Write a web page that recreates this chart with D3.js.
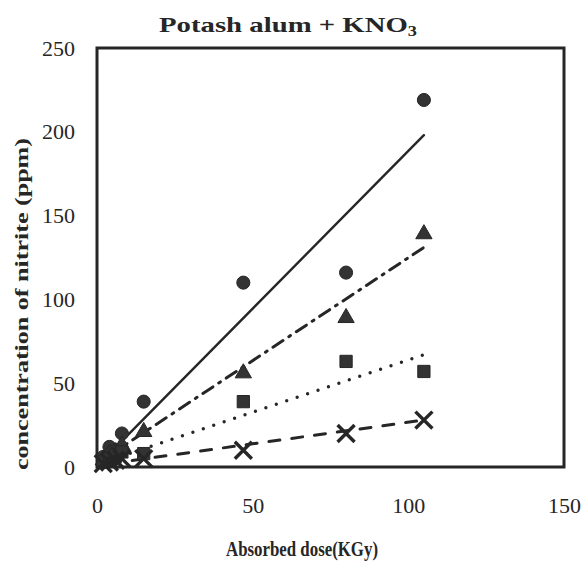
<!DOCTYPE html>
<html>
<head>
<meta charset="utf-8">
<script src="https://cdn.jsdelivr.net/npm/d3@7"></script>
<style>
  body { margin: 0; background: #fff; }
  svg { display: block; }
</style>
</head>
<body>
<div id="chart"></div>
<script>
// doses (KGy)
const doses = [2, 4, 6, 8, 15, 47, 80, 105];
const circleVals = [6, 12, 10, 20, 39, 110, 116, 219];
const triangleVals = [4, 8, 9, 13, 21, 56, 89, 139];
const squareVals = [3, 5, 7, 9, 8, 39, 63, 57];
const crossVals = [2, 3, 4, 5, 5, 10, 20, 28];

// fitted lines: value at start and end dose
const fitDoses = [4, 105];
const circleFit = [8, 198];
const triangleFit = [7, 131];
const squareFit = [4, 67];
const crossFit = [2, 28];

const xTicks = [0, 50, 100, 150];
const yTicks = [0, 50, 100, 150, 200, 250];

const width = 582;
const height = 563;
const margin = { top: 48, right: 18, bottom: 96, left: 97 };
const ink = "#262626";

const svg = d3.select("#chart")
    .append("svg")
    .attr("width", width)
    .attr("height", height);

const xScale = d3.scaleLinear()
    .domain([0, 150])
    .range([margin.left, width - margin.right]);

const yScale = d3.scaleLinear()
    .domain([0, 250])
    .range([height - margin.bottom, margin.top]);

// axes, labels only
const xAxis = svg.append("g")
    .attr("transform", `translate(0,${yScale(0)})`)
    .call(d3.axisBottom(xScale).tickValues(xTicks).tickSize(0).tickPadding(30));
xAxis.select(".domain").remove();
xAxis.selectAll("text")
    .style("font-family", "'Liberation Serif', serif")
    .style("font-size", "22px")
    .attr("fill", ink);

const yAxis = svg.append("g")
    .attr("transform", `translate(${xScale(0)},0)`)
    .call(d3.axisLeft(yScale).tickValues(yTicks).tickSize(0).tickPadding(22));
yAxis.select(".domain").remove();
yAxis.selectAll("text")
    .style("font-family", "'Liberation Serif', serif")
    .style("font-size", "22px")
    .attr("fill", ink);

// frame
svg.append("rect")
    .attr("x", xScale(0))
    .attr("y", yScale(250))
    .attr("width", xScale(150) - xScale(0))
    .attr("height", yScale(0) - yScale(250))
    .attr("fill", "none")
    .attr("stroke", ink)
    .attr("stroke-width", 3);

// fit lines
const fits = [
    { vals: circleFit, dash: null, w: 2.4 },
    { vals: triangleFit, dash: "12,7,2,7", w: 3 },
    { vals: squareFit, dash: "0,11", w: 3.4 },
    { vals: crossFit, dash: "11,12", w: 3 }
];

const line = d3.line()
    .x((d) => xScale(d[0]))
    .y((d) => yScale(d[1]));

fits.forEach((f) => {
    svg.append("path")
        .attr("d", line(fitDoses.map((x, i) => [x, f.vals[i]])))
        .attr("fill", "none")
        .attr("stroke", ink)
        .attr("stroke-width", f.w)
        .attr("stroke-linecap", "round")
        .attr("stroke-dasharray", f.dash);
});

// markers
const series = [
    { vals: circleVals, shape: d3.symbolCircle, size: 135 },
    { vals: triangleVals, shape: d3.symbolTriangle, size: 115 },
    { vals: squareVals, shape: d3.symbolSquare, size: 150 },
    { vals: crossVals, shape: d3.symbolTimes, size: 190 }
];

series.forEach((s) => {
    const isCross = s.shape === d3.symbolTimes;
    svg.append("g")
        .selectAll("path")
        .data(doses.map((x, i) => ({ x: x, y: s.vals[i] })))
        .enter()
        .append("path")
        .attr("transform", (d) => `translate(${xScale(d.x)},${yScale(d.y)})`)
        .attr("d", d3.symbol().type(s.shape).size(s.size))
        .attr("fill", isCross ? "none" : "#333")
        .attr("stroke", ink)
        .attr("stroke-width", isCross ? 3.4 : 1);
});

// title
const title = svg.append("text")
    .attr("x", 288)
    .attr("y", 32)
    .attr("text-anchor", "middle")
    .attr("textLength", 258)
    .attr("lengthAdjust", "spacingAndGlyphs")
    .style("font-family", "'Liberation Serif', serif")
    .style("font-weight", "bold")
    .style("font-size", "22px")
    .attr("fill", ink);
title.append("tspan").text("Potash alum + KNO");
title.append("tspan").attr("dy", 4).style("font-size", "14px").text("3");

// axis titles
svg.append("text")
    .attr("x", 302)
    .attr("y", 556)
    .attr("text-anchor", "middle")
    .attr("textLength", 152)
    .attr("lengthAdjust", "spacingAndGlyphs")
    .style("font-family", "'Liberation Serif', serif")
    .style("font-weight", "bold")
    .style("font-size", "20px")
    .attr("fill", ink)
    .text("Absorbed dose(KGy)");

svg.append("text")
    .attr("transform", "translate(28,304) rotate(-90)")
    .attr("text-anchor", "middle")
    .attr("textLength", 332)
    .attr("lengthAdjust", "spacingAndGlyphs")
    .style("font-family", "'Liberation Serif', serif")
    .style("font-weight", "bold")
    .style("font-size", "19px")
    .attr("fill", ink)
    .text("concentration of nitrite (ppm)");
</script>
</body>
</html>
